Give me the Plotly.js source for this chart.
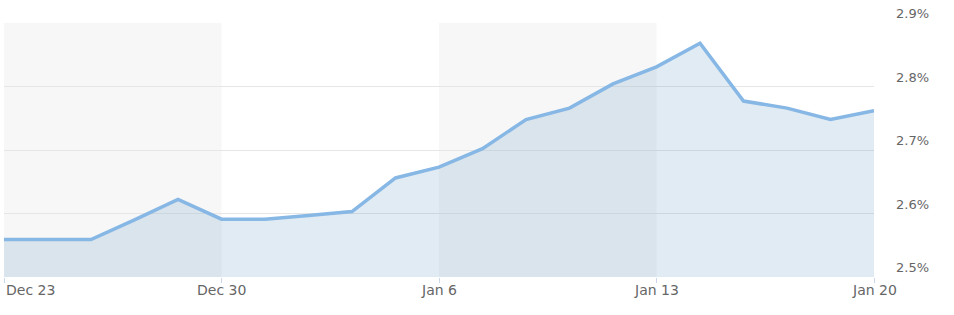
<!DOCTYPE html>
<html><head><meta charset="utf-8">
<script src="https://cdn.plot.ly/plotly-3.0.1.min.js"></script>
<style>html,body{margin:0;padding:0;background:#fff}#c{width:954px;height:315px}</style>
</head><body><div id="c"></div>
<script>
// business-day index (5 per week) from Dec 23 to Jan 20
const dayIndex = [0,1,2,3,4,5,6,7,8,9,10,11,12,13,14,15,16,17,18,19,20];
const yieldValues = [2.559,2.559,2.559,2.590,2.622,2.591,2.591,2.597,2.603,2.656,2.673,2.702,2.748,2.766,2.804,2.831,2.868,2.777,2.766,2.748,2.762];
const xTickVals = [0,5,10,15,20];
const xTickLabels = ['Dec 23','Dec 30','Jan 6','Jan 13','Jan 20'];
const yTickVals = [2.5,2.6,2.7,2.8,2.9];
const yTickLabels = ['2.5%','2.6%','2.7%','2.8%','2.9%'];
const bands = [[0,5],[10,15]];

const trace = {
  x: dayIndex, y: yieldValues, type:'scatter', mode:'lines',
  line:{color:'#86b7e5', width:3.5},
  fill:'tozeroy', fillcolor:'rgba(70,130,180,0.16)',
  hoverinfo:'skip'
};
const shapes = bands.map(b=>({type:'rect', xref:'x', yref:'paper', x0:b[0], x1:b[1], y0:0, y1:1,
  fillcolor:'#f7f7f7', line:{width:0}, layer:'below'}));
const annotations = xTickVals.map((v,i)=>({x:v, xref:'x', y:0, yref:'paper', yanchor:'top', yshift:-3,
  xanchor: i===0 ? 'left' : 'center', text:xTickLabels[i], showarrow:false,
  font:{family:'DejaVu Sans', size:14, color:'#666'}}));

const layout = {
  width:954, height:315, margin:{l:4, r:80, t:22.5, b:38},
  paper_bgcolor:'#fff', plot_bgcolor:'rgba(0,0,0,0)',
  showlegend:false, shapes, annotations,
  xaxis:{range:[0,20], tickvals:xTickVals, ticktext:xTickLabels, showticklabels:false,
    ticks:'outside', ticklen:5, tickcolor:'#ccd6eb', showgrid:false, zeroline:false, showline:false, fixedrange:true},
  yaxis:{range:[2.5,2.9], side:'right', tickvals:yTickVals, ticktext:yTickLabels,
    showgrid:true, gridcolor:'#e6e6e6', gridwidth:1, zeroline:false, showline:false,
    ticklabelposition:'outside top', ticklabelstandoff:21,
    tickfont:{family:'DejaVu Sans', size:13, color:'#666'}, fixedrange:true}
};
Plotly.newPlot('c',[trace],layout,{displayModeBar:false, staticPlot:true});
</script></body></html>
